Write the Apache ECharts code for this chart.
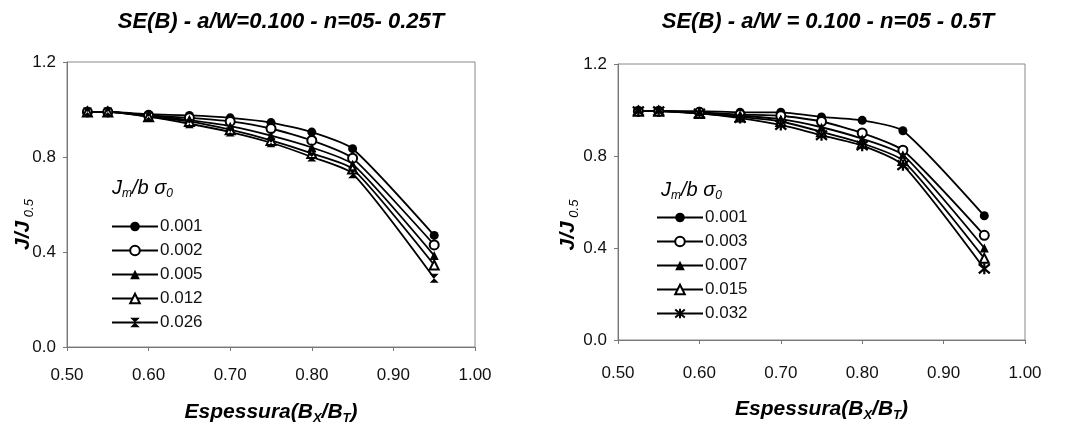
<!DOCTYPE html>
<html>
<head>
<meta charset="utf-8">
<script src="https://cdn.jsdelivr.net/npm/echarts@6/dist/echarts.min.js"></script>
<style>
html,body{margin:0;padding:0;background:#fff;}
#c{width:1077px;height:432px;}
</style>
</head>
<body>
<div id="c"></div>
<script>
// ---- data ----
const xValues = [0.525, 0.55, 0.60, 0.65, 0.70, 0.75, 0.80, 0.85, 0.95];
const xTickLabels = ['0.50', '0.60', '0.70', '0.80', '0.90', '1.00'];
const yTickLabels = ['0.0', '0.4', '0.8', '1.2'];

const leftTitle = 'SE(B) - a/W=0.100 - n=05- 0.25T';
const rightTitle = 'SE(B) - a/W = 0.100 - n=05 - 0.5T';

const leftNames = ['0.001', '0.002', '0.005', '0.012', '0.026'];
const left001 = [0.99, 0.99, 0.98, 0.975, 0.965, 0.945, 0.905, 0.835, 0.47];
const left002 = [0.99, 0.99, 0.975, 0.965, 0.95, 0.92, 0.87, 0.795, 0.43];
const left005 = [0.99, 0.99, 0.975, 0.955, 0.93, 0.89, 0.84, 0.77, 0.385];
const left012 = [0.99, 0.99, 0.97, 0.95, 0.915, 0.87, 0.815, 0.75, 0.345];
const left026 = [0.99, 0.99, 0.97, 0.94, 0.905, 0.86, 0.80, 0.73, 0.29];

const rightNames = ['0.001', '0.003', '0.007', '0.015', '0.032'];
const right001 = [0.995, 0.995, 0.995, 0.99, 0.99, 0.97, 0.955, 0.91, 0.54];
const right003 = [0.995, 0.995, 0.99, 0.98, 0.975, 0.95, 0.90, 0.825, 0.455];
const right007 = [0.995, 0.995, 0.985, 0.975, 0.96, 0.925, 0.875, 0.805, 0.40];
const right015 = [0.995, 0.995, 0.985, 0.97, 0.95, 0.905, 0.855, 0.78, 0.355];
const right032 = [0.995, 0.995, 0.985, 0.965, 0.935, 0.89, 0.845, 0.76, 0.31];

// ---- styling ----
const hourglass = 'path://M0,0 L10,0 L0,10 L10,10 Z';
const asterisk = 'path://M0,0 L10,10 M10,0 L0,10 M5,-1 L5,11';
const leftSymbols = ['circle', 'emptyCircle', 'triangle', 'emptyTriangle', hourglass];
const rightSymbols = ['circle', 'emptyCircle', 'triangle', 'emptyTriangle', asterisk];
const leftData = [left001, left002, left005, left012, left026];
const rightData = [right001, right003, right007, right015, right032];

function pairs(arr) { return xValues.map((x, i) => [x, arr[i]]); }

function makeSeries(names, datas, symbols, idx) {
  return names.map((n, i) => ({
    name: n,
    type: 'line',
    xAxisIndex: idx,
    yAxisIndex: idx,
    data: pairs(datas[i]),
    smooth: 0.2,
    symbol: symbols[i],
    symbolSize: symbols[i] === asterisk ? 11 : 9,
    lineStyle: { color: '#000', width: 1.8 },
    itemStyle: {
      color: '#000',
      borderColor: '#000',
      borderWidth: symbols[i] === asterisk ? 2.2 : (symbols[i].startsWith('empty') ? 1.8 : 0)
    },
    emphasis: { disabled: true },
    z: 3
  }));
}

const fontFam = '"Liberation Sans", Arial, sans-serif';
const richName = {
  m: { fontSize: 21, fontWeight: 'bold', fontStyle: 'italic', color: '#000', fontFamily: fontFam, lineHeight: 26, verticalAlign: 'middle' },
  s: { fontSize: 13, fontWeight: 'bold', fontStyle: 'italic', color: '#000', fontFamily: fontFam, lineHeight: 10, verticalAlign: 'bottom' }
};
const richY = {
  m: { fontSize: 21, fontWeight: 'bold', fontStyle: 'italic', color: '#000', fontFamily: fontFam, lineHeight: 26, verticalAlign: 'middle' },
  s: { fontSize: 13, fontStyle: 'italic', color: '#000', fontFamily: fontFam, lineHeight: 12, verticalAlign: 'bottom' }
};

function xAxisCfg(idx, labelMargin, nameGap) {
  return {
    gridIndex: idx, type: 'value', min: 0.5, max: 1.0, interval: 0.1,
    name: '{m|Espessura(B}{s|X}{m|/B}{s|T}{m|)}',
    nameLocation: 'middle', nameGap: nameGap, nameMoveOverlap: false,
    nameTextStyle: { rich: richName },
    axisLine: { show: true, lineStyle: { color: '#777', width: 1 } },
    axisTick: { show: true, length: 4, lineStyle: { color: '#777' } },
    axisLabel: {
      margin: labelMargin, fontSize: 17, color: '#111', fontFamily: fontFam,
      formatter: v => xTickLabels[Math.round((v - 0.5) / 0.1)]
    },
    splitLine: { show: false }
  };
}
function yAxisCfg(idx, nameGap, shift) {
  return {
    gridIndex: idx, type: 'value', min: 0, max: 1.2, interval: 0.4,
    name: '{m|J/J}{s| 0.5}',
    nameLocation: 'middle', nameGap: nameGap, nameMoveOverlap: false,
    nameTextStyle: { rich: richY, padding: [0, shift, 0, 0] },
    axisLine: { show: true, lineStyle: { color: '#777', width: 1 } },
    axisTick: { show: true, length: 4, lineStyle: { color: '#777' } },
    axisLabel: {
      margin: 11, fontSize: 17, color: '#111', fontFamily: fontFam,
      formatter: v => yTickLabels[Math.round(v / 0.4)]
    },
    splitLine: { show: false }
  };
}

function legendCfg(names, left, top) {
  return {
    data: names, orient: 'vertical', left: left, top: top,
    itemWidth: 46, itemHeight: 12, itemGap: 7,
    selectedMode: false,
    textStyle: { fontSize: 17, color: '#111', fontFamily: fontFam, padding: [0, 0, 0, -3] }
  };
}

const legendTitleRich = {
  m: { fontSize: 20, fontStyle: 'italic', color: '#111', fontFamily: fontFam, lineHeight: 24, verticalAlign: 'middle' },
  s: { fontSize: 12, fontStyle: 'italic', color: '#111', fontFamily: fontFam, lineHeight: 10, verticalAlign: 'bottom' }
};

const option = {
  animation: false,
  backgroundColor: '#fff',
  title: [
    { text: leftTitle, left: 276, top: 6, textAlign: 'center',
      textStyle: { fontSize: 22, fontWeight: 'bold', fontStyle: 'italic', color: '#000', fontFamily: fontFam } },
    { text: rightTitle, left: 823, top: 6, textAlign: 'center',
      textStyle: { fontSize: 22, fontWeight: 'bold', fontStyle: 'italic', color: '#000', fontFamily: fontFam } }
  ],
  grid: [
    { left: 67, top: 62, width: 408, height: 285, show: true, borderColor: '#888', borderWidth: 1, backgroundColor: 'transparent' },
    { left: 618, top: 64, width: 407, height: 276, show: true, borderColor: '#888', borderWidth: 1, backgroundColor: 'transparent' }
  ],
  xAxis: [xAxisCfg(0, 20, 52), xAxisCfg(1, 25, 56)],
  yAxis: [yAxisCfg(0, 31, 40), yAxisCfg(1, 37, 46)],
  legend: [legendCfg(leftNames, 106, 213), legendCfg(rightNames, 651, 204)],
  graphic: [
    { type: 'text', left: 112, top: 178,
      style: { text: '{m|J}{s|m}{m|/b σ}{s|0}', rich: legendTitleRich } },
    { type: 'text', left: 661, top: 180,
      style: { text: '{m|J}{s|m}{m|/b σ}{s|0}', rich: legendTitleRich } }
  ],
  series: makeSeries(leftNames, leftData, leftSymbols, 0)
    .concat(makeSeries(rightNames, rightData, rightSymbols, 1))
};

const chart = echarts.init(document.getElementById('c'), null, { renderer: 'canvas' });
chart.setOption(option);
</script>
</body>
</html>
